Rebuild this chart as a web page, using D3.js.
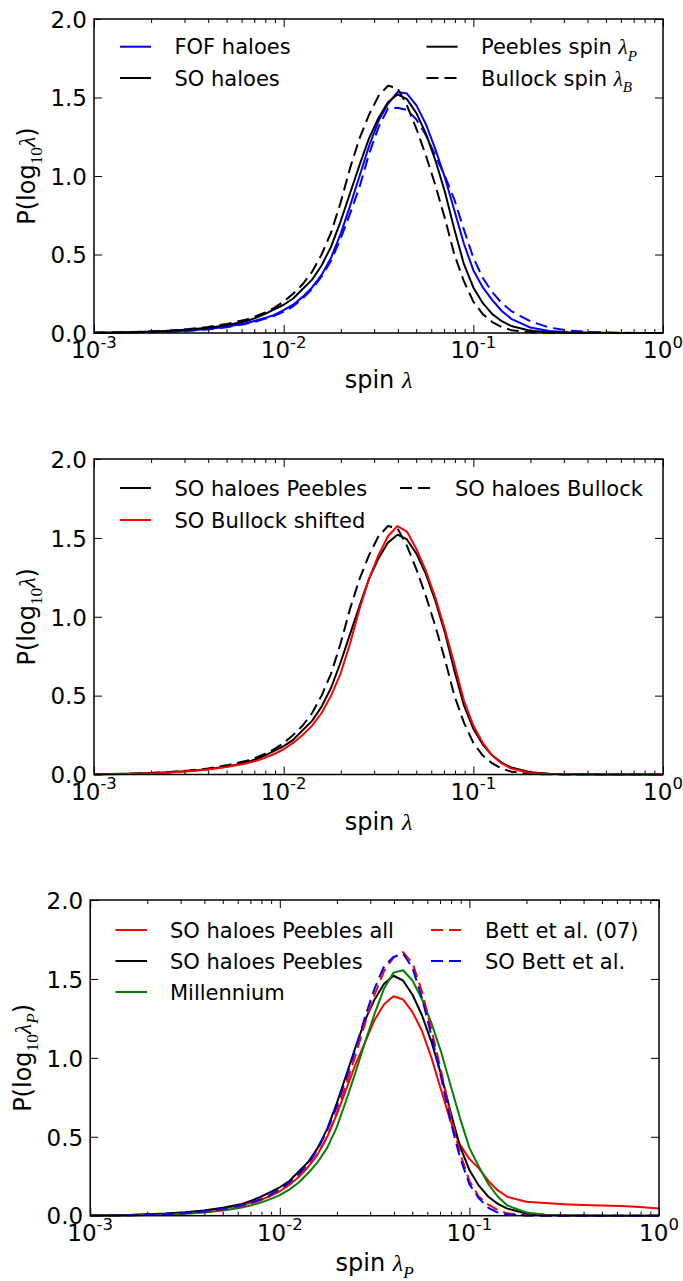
<!DOCTYPE html>
<html>
<head>
<meta charset="utf-8">
<script src="https://cdn.jsdelivr.net/npm/d3@7"></script>
<style>
  body { margin: 0; background: #ffffff; }
  svg { display: block; }
</style>
</head>
<body>
<svg id="fig" width="683" height="1281"></svg>
<script>
// log10(spin) bin centres shared by every distribution
const logLambda = [-3.0, -2.9, -2.8, -2.7, -2.6, -2.5, -2.4, -2.3, -2.2,
  -2.15, -2.1, -2.05, -2.0, -1.95, -1.9, -1.85, -1.8, -1.75, -1.7, -1.65, -1.6, -1.55,
  -1.5, -1.45, -1.4, -1.35, -1.3, -1.25, -1.2, -1.15, -1.1, -1.05, -1.0, -0.95, -0.9, -0.85,
  -0.8, -0.7, -0.6, -0.5, -0.4, -0.3, -0.2, -0.1, 0.0];

// P(log10 lambda) for each halo sample
const soPeebles = [0.002, 0.003, 0.005, 0.009, 0.014, 0.022, 0.033, 0.05, 0.075,
  0.095, 0.12, 0.15, 0.18, 0.22, 0.28, 0.34, 0.43, 0.55, 0.71, 0.89, 1.07, 1.24,
  1.37, 1.47, 1.52, 1.49, 1.40, 1.27, 1.10, 0.90, 0.66, 0.44, 0.29, 0.19, 0.12, 0.075,
  0.045, 0.014, 0.005, 0.002, 0.001, 0, 0, 0, 0];
const soBullock = [0.002, 0.003, 0.006, 0.01, 0.016, 0.025, 0.038, 0.058, 0.085,
  0.105, 0.13, 0.16, 0.2, 0.25, 0.31, 0.39, 0.5, 0.64, 0.83, 1.05, 1.24, 1.39,
  1.51, 1.575, 1.56, 1.45, 1.3, 1.13, 0.94, 0.73, 0.5, 0.33, 0.2, 0.12, 0.07, 0.038,
  0.018, 0.004, 0.001, 0, 0, 0, 0, 0, 0];
const fofPeebles = [0.001, 0.002, 0.004, 0.006, 0.01, 0.016, 0.026, 0.04, 0.062,
  0.078, 0.095, 0.115, 0.145, 0.18, 0.23, 0.29, 0.37, 0.48, 0.63, 0.81, 1.0, 1.19,
  1.35, 1.46, 1.535, 1.525, 1.45, 1.33, 1.17, 0.99, 0.78, 0.57, 0.40, 0.29, 0.21, 0.14,
  0.09, 0.035, 0.013, 0.005, 0.002, 0.001, 0, 0, 0];
const fofBullock = [0.001, 0.002, 0.003, 0.005, 0.009, 0.014, 0.023, 0.037, 0.058,
  0.072, 0.09, 0.11, 0.135, 0.17, 0.22, 0.28, 0.36, 0.46, 0.6, 0.76, 0.93, 1.14,
  1.31, 1.43, 1.435, 1.42, 1.36, 1.26, 1.13, 1.0, 0.85, 0.66, 0.48, 0.35, 0.26, 0.19,
  0.14, 0.075, 0.035, 0.016, 0.007, 0.003, 0.001, 0, 0];
const soBullockShifted = [0.001, 0.002, 0.004, 0.007, 0.012, 0.02, 0.031, 0.047, 0.07,
  0.085, 0.105, 0.13, 0.16, 0.2, 0.25, 0.31, 0.39, 0.5, 0.64, 0.83, 1.05, 1.24,
  1.39, 1.51, 1.575, 1.54, 1.43, 1.29, 1.12, 0.92, 0.7, 0.47, 0.31, 0.2, 0.12, 0.07,
  0.038, 0.01, 0.003, 0.001, 0, 0, 0, 0, 0];
const soPeeblesAll = [0.001, 0.002, 0.004, 0.007, 0.012, 0.019, 0.03, 0.045, 0.068,
  0.083, 0.1, 0.125, 0.155, 0.195, 0.245, 0.31, 0.39, 0.5, 0.64, 0.8, 0.96, 1.1,
  1.24, 1.34, 1.39, 1.37, 1.29, 1.17, 1.0, 0.8, 0.6, 0.45, 0.36, 0.3, 0.22, 0.16,
  0.12, 0.088, 0.08, 0.073, 0.068, 0.065, 0.061, 0.055, 0.045];
const bett07 = [0.001, 0.002, 0.003, 0.005, 0.009, 0.015, 0.025, 0.04, 0.062,
  0.078, 0.098, 0.125, 0.16, 0.2, 0.25, 0.31, 0.39, 0.5, 0.65, 0.83, 1.02, 1.22,
  1.4, 1.55, 1.635, 1.67, 1.6, 1.42, 1.18, 0.92, 0.64, 0.4, 0.22, 0.12, 0.07, 0.035,
  0.015, 0.003, 0.001, 0, 0, 0, 0, 0, 0];
const soBett = [0.001, 0.002, 0.003, 0.006, 0.01, 0.016, 0.027, 0.043, 0.066,
  0.083, 0.105, 0.133, 0.17, 0.21, 0.265, 0.33, 0.42, 0.54, 0.69, 0.87, 1.06, 1.26,
  1.44, 1.58, 1.64, 1.66, 1.57, 1.38, 1.14, 0.88, 0.6, 0.37, 0.2, 0.11, 0.05, 0.02,
  0.007, 0.001, 0, 0, 0, 0, 0, 0, 0];
const millennium = [0.001, 0.001, 0.002, 0.004, 0.007, 0.012, 0.02, 0.033, 0.052,
  0.066, 0.083, 0.105, 0.13, 0.165, 0.21, 0.27, 0.34, 0.43, 0.56, 0.73, 0.91, 1.1,
  1.28, 1.44, 1.54, 1.555, 1.49, 1.37, 1.22, 1.04, 0.83, 0.62, 0.43, 0.31, 0.2, 0.12,
  0.065, 0.02, 0.006, 0.002, 0.001, 0, 0, 0, 0];

// axis ticks
const xTickExponents = [-3, -2, -1, 0];
const xMinorFactors = [2, 3, 4, 5, 6, 7, 8, 9];
const yTicks = [0, 0.5, 1.0, 1.5, 2.0];
const xDomain = [1e-3, 1];
const yDomain = [0, 2];

const SANS = "'DejaVu Sans', sans-serif";
const MATH = "'Liberation Serif', 'DejaVu Serif', serif";
const FS = 23;      // tick label size
const AFS = 24;     // axis title size
const LFS = 21;     // legend text size

const BLUE = "#0000ff", RED = "#ff0000", GREEN = "#008000", BLACK = "#000000";
const DASH = "12,6";

const lam = [{ t: "λ", math: true, it: true }];
const panels = [
  {
    box: { left: 94, right: 663, top: 19, bottom: 333 },
    series: [
      { v: fofBullock, c: BLUE, d: DASH },
      { v: fofPeebles, c: BLUE },
      { v: soBullock, c: BLACK, d: DASH },
      { v: soPeebles, c: BLACK }
    ],
    ylabel: [{ t: "P(log" }, { t: "10", math: true, sub: true }, ...lam, { t: ")" }],
    xlabel: [{ t: "spin " }, ...lam],
    legend: {
      rows: [46.7, 78],
      cols: [{ x0: 120, x1: 151, tx: 174.5 }, { x0: 426.5, x1: 457.5, tx: 481 }],
      items: [
        { col: 0, row: 0, c: BLUE, label: [{ t: "FOF haloes" }] },
        { col: 0, row: 1, c: BLACK, label: [{ t: "SO haloes" }] },
        { col: 1, row: 0, c: BLACK, label: [{ t: "Peebles spin " }, ...lam, { t: "P", math: true, it: true, sub: true }] },
        { col: 1, row: 1, c: BLACK, d: DASH, label: [{ t: "Bullock spin " }, ...lam, { t: "B", math: true, it: true, sub: true }] }
      ]
    }
  },
  {
    box: { left: 94, right: 663, top: 459, bottom: 774.5 },
    series: [
      { v: soBullock, c: BLACK, d: DASH },
      { v: soPeebles, c: BLACK },
      { v: soBullockShifted, c: RED }
    ],
    ylabel: [{ t: "P(log" }, { t: "10", math: true, sub: true }, ...lam, { t: ")" }],
    xlabel: [{ t: "spin " }, ...lam],
    legend: {
      rows: [488, 520],
      cols: [{ x0: 120, x1: 151, tx: 174.5 }, { x0: 400, x1: 431, tx: 455 }],
      items: [
        { col: 0, row: 0, c: BLACK, label: [{ t: "SO haloes Peebles" }] },
        { col: 0, row: 1, c: RED, label: [{ t: "SO Bullock shifted" }] },
        { col: 1, row: 0, c: BLACK, d: DASH, label: [{ t: "SO haloes Bullock" }] }
      ]
    }
  },
  {
    box: { left: 90.2, right: 659, top: 900, bottom: 1215.7 },
    series: [
      { v: soPeeblesAll, c: RED },
      { v: soPeebles, c: BLACK },
      { v: millennium, c: GREEN },
      { v: bett07, c: RED, d: DASH },
      { v: soBett, c: BLUE, d: DASH }
    ],
    ylabel: [{ t: "P(log" }, { t: "10", math: true, sub: true }, ...lam, { t: "P", math: true, it: true, sub: true }, { t: ")" }],
    xlabel: [{ t: "spin " }, ...lam, { t: "P", math: true, it: true, sub: true }],
    legend: {
      rows: [930, 961, 992],
      cols: [{ x0: 115.5, x1: 147, tx: 170 }, { x0: 431, x1: 462, tx: 485 }],
      items: [
        { col: 0, row: 0, c: RED, label: [{ t: "SO haloes Peebles all" }] },
        { col: 0, row: 1, c: BLACK, label: [{ t: "SO haloes Peebles" }] },
        { col: 0, row: 2, c: GREEN, label: [{ t: "Millennium" }] },
        { col: 1, row: 0, c: RED, d: DASH, label: [{ t: "Bett et al. (07)" }] },
        { col: 1, row: 1, c: BLUE, d: DASH, label: [{ t: "SO Bett et al." }] }
      ]
    }
  }
];

// Writes a run of text pieces with sub/superscripts into a <text> element
function rich(textSel, parts, fs) {
  let cur = 0;
  parts.forEach(p => {
    const off = p.sub ? fs * 0.3 : p.sup ? -fs * 0.45 : 0;
    const ts = textSel.append("tspan").text(p.t);
    if (off - cur !== 0) ts.attr("dy", off - cur);
    cur = off;
    if (p.sub || p.sup) ts.attr("font-size", fs * 0.72);
    if (p.math) ts.attr("font-family", MATH);
    if (p.it) ts.attr("font-style", "italic");
  });
}

const svg = d3.select("#fig");
svg.append("rect").attr("width", 683).attr("height", 1281).attr("fill", "#ffffff");

panels.forEach(P => {
  const b = P.box;
  const x = d3.scaleLog().domain(xDomain).range([b.left, b.right]);
  const y = d3.scaleLinear().domain(yDomain).range([b.bottom, b.top]);
  const g = svg.append("g");

  const majors = xTickExponents.map(e => Math.pow(10, e));
  const minors = [];
  xTickExponents.slice(0, -1).forEach(e => xMinorFactors.forEach(k => minors.push(k * Math.pow(10, e))));

  const strip = sel => {
    sel.select(".domain").remove();
    sel.selectAll(".tick line").attr("stroke", BLACK).attr("stroke-width", 1);
  };

  // ticks pointing inward on all four sides
  g.append("g").attr("transform", `translate(0,${b.bottom})`)
    .call(d3.axisBottom(x).tickValues(majors).tickSize(-8).tickFormat("")).call(strip);
  g.append("g").attr("transform", `translate(0,${b.bottom})`)
    .call(d3.axisBottom(x).tickValues(minors).tickSize(-4).tickFormat("")).call(strip);
  g.append("g").attr("transform", `translate(0,${b.top})`)
    .call(d3.axisTop(x).tickValues(majors).tickSize(-8).tickFormat("")).call(strip);
  g.append("g").attr("transform", `translate(0,${b.top})`)
    .call(d3.axisTop(x).tickValues(minors).tickSize(-4).tickFormat("")).call(strip);
  g.append("g").attr("transform", `translate(${b.right},0)`)
    .call(d3.axisRight(y).tickValues(yTicks).tickSize(-8).tickFormat("")).call(strip);
  const yAxis = g.append("g").attr("transform", `translate(${b.left},0)`)
    .call(d3.axisLeft(y).tickValues(yTicks).tickSize(-8).tickPadding(7).tickFormat(d3.format(".1f")))
    .call(strip);
  yAxis.attr("font-family", SANS).attr("font-size", FS);
  yAxis.selectAll(".tick text").attr("fill", BLACK).attr("dy", "0.36em");

  // decade labels 10^n
  xTickExponents.forEach(e => {
    const t = g.append("text")
      .attr("x", x(Math.pow(10, e)))
      .attr("y", b.bottom + 25)
      .attr("text-anchor", "middle")
      .attr("font-family", SANS)
      .attr("font-size", FS)
      .attr("fill", BLACK);
    rich(t, [{ t: "10" }, { t: String(e), sup: true }], FS);
  });

  // axis titles
  const xl = g.append("text")
    .attr("x", (b.left + b.right) / 2)
    .attr("y", b.bottom + 55)
    .attr("text-anchor", "middle")
    .attr("font-family", SANS).attr("font-size", AFS).attr("fill", BLACK);
  rich(xl, P.xlabel, AFS);

  const yl = g.append("text")
    .attr("transform", `translate(${b.left - 59},${(b.top + b.bottom) / 2}) rotate(-90)`)
    .attr("text-anchor", "middle")
    .attr("font-family", SANS).attr("font-size", AFS).attr("fill", BLACK);
  rich(yl, P.ylabel, AFS);

  // distributions
  const line = d3.line()
    .x(d => x(Math.pow(10, d[0])))
    .y(d => y(d[1]));
  P.series.forEach(s => {
    g.append("path")
      .datum(logLambda.map((l, i) => [l, s.v[i]]))
      .attr("d", line)
      .attr("fill", "none")
      .attr("stroke", s.c)
      .attr("stroke-width", 2)
      .attr("stroke-linejoin", "round")
      .attr("stroke-dasharray", s.d || null);
  });

  // frame
  g.append("rect")
    .attr("x", b.left).attr("y", b.top)
    .attr("width", b.right - b.left).attr("height", b.bottom - b.top)
    .attr("fill", "none").attr("stroke", BLACK).attr("stroke-width", 1.5);

  // legend (no frame, two columns)
  const L = P.legend;
  L.items.forEach(it => {
    const col = L.cols[it.col], ry = L.rows[it.row];
    g.append("line")
      .attr("x1", col.x0).attr("x2", col.x1)
      .attr("y1", ry).attr("y2", ry)
      .attr("stroke", it.c).attr("stroke-width", 2)
      .attr("stroke-dasharray", it.d || null);
    const t = g.append("text")
      .attr("x", col.tx).attr("y", ry + 7.5)
      .attr("font-family", SANS).attr("font-size", LFS).attr("fill", BLACK);
    rich(t, it.label, LFS);
  });
});
</script>
</body>
</html>
